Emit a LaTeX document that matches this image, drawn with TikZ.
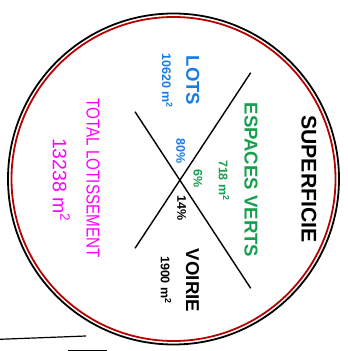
\documentclass[tikz,border=0pt]{standalone}
\usepackage{fontspec}
\setmainfont{Liberation Sans}
\definecolor{vgreen}{HTML}{16A04E}
\definecolor{lblue}{HTML}{1A7CE8}
\definecolor{tmag}{HTML}{FF00FF}
\definecolor{cred}{HTML}{B80000}
\begin{document}
\begin{tikzpicture}[x=1pt,y=1pt,
  lbl/.style={rotate=-90, inner sep=0pt, anchor=center},
  big/.style={lbl, font=\fontsize{18.6}{20}\selectfont\bfseries},
  small/.style={lbl, font=\fontsize{12.5}{14}\selectfont\bfseries},
  xline/.style={line width=1.4pt, black}]
\useasboundingbox (0,0) rectangle (348,351);
\fill[white] (0,0) rectangle (348,351);
\coordinate (c) at (173.5,172);
\draw[line width=1.8pt, black] (c) circle (165.5);
\draw[line width=1.8pt, cred] (c) circle (162);
% X
\coordinate (a1) at (250.7,278.3);
\coordinate (a2) at (135,102.7);
\coordinate (b1) at (135,239.3);
\coordinate (b2) at (250.7,62.7);
\draw[xline] (a1) -- (a2);
\draw[xline] (b1) -- (b2);
% bottom-left fragments
\coordinate (l1) at (0,11.7);
\coordinate (l2) at (86,15);
\draw[line width=1.2pt] (l1) -- (l2);
\coordinate (m1) at (68.3,0.3);
\coordinate (m2) at (107.3,0.3);
\draw[line width=1.2pt] (m1) -- (m2);
% labels
\node[lbl, font=\fontsize{21.2}{23}\selectfont\bfseries] (sup) at (309,172) {SUPERFICIE};
\node[big, text=vgreen] (ev) at (251,171) {ESPACES VERTS};
\node[small, text=vgreen] (evm) at (224,170.5) {718 m\textsuperscript{2}};
\node[small, text=vgreen] (evp) at (198,172) {6\%};
\node[big, text=lblue] (lots) at (192.7,270.5) {LOTS};
\node[small, text=lblue] (lotsm) at (167.3,270) {10620 m\textsuperscript{2}};
\node[small, text=lblue] (lotsp) at (180.7,200) {80\%};
\node[small] (voip) at (181.7,142.5) {14\%};
\node[big] (voi) at (192.5,70.5) {VOIRIE};
\node[small] (voim) at (166,71) {1900 m\textsuperscript{2}};
\node[lbl, text=tmag, font=\fontsize{18.6}{20}\selectfont] (tot) at (93,173) {\scalebox{0.82}[1]{TOTAL LOTISSEMENT}};
\node[lbl, text=tmag, font=\fontsize{19.5}{21}\selectfont] (totm) at (61.3,171) {13238 m\textsuperscript{2}};
\end{tikzpicture}
\end{document}
